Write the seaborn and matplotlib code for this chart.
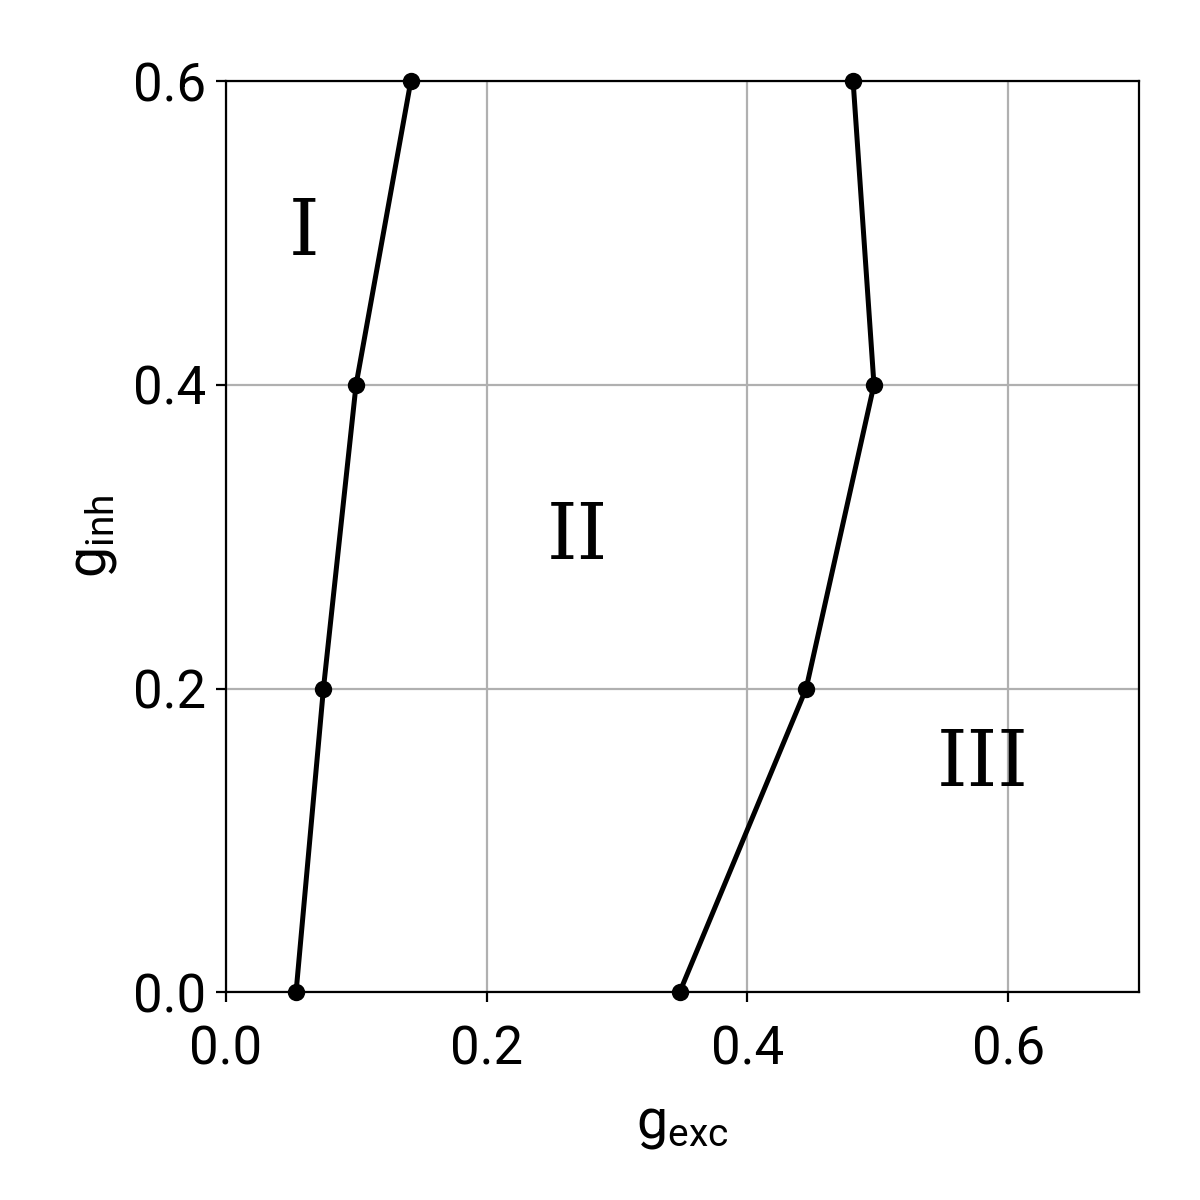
import numpy as np
import pandas as pd
import matplotlib
matplotlib.use("Agg")
import matplotlib.pyplot as plt
import seaborn as sns

# boundary curves between regimes
g_inh = [0.0, 0.2, 0.4, 0.6]
g_exc_left = [0.054, 0.075, 0.100, 0.142]
g_exc_right = [0.348, 0.445, 0.497, 0.481]

region_names = ["I", "II", "III"]
region_x = [0.06, 0.27, 0.58]
region_y = [0.50, 0.30, 0.15]

sns.set_style("ticks")
plt.rcParams['font.family'] = ['Roboto', 'DejaVu Sans']
plt.rcParams['mathtext.fontset'] = 'custom'
plt.rcParams['mathtext.rm'] = 'Roboto'
plt.rcParams['text.color'] = 'black'
plt.rcParams['axes.labelcolor'] = 'black'
plt.rcParams['xtick.color'] = 'black'
plt.rcParams['ytick.color'] = 'black'

df = pd.concat([
    pd.DataFrame({"g_exc": g_exc_left, "g_inh": g_inh, "curve": "left"}),
    pd.DataFrame({"g_exc": g_exc_right, "g_inh": g_inh, "curve": "right"}),
])

fig, ax = plt.subplots(figsize=(6, 6), dpi=200)
fig.subplots_adjust(left=0.188, right=0.949, bottom=0.173, top=0.9325)

sns.lineplot(data=df, x="g_exc", y="g_inh", units="curve", estimator=None,
             sort=False, color="black", linewidth=1.8, marker="o",
             markersize=5.5, markeredgecolor="black", ax=ax, clip_on=False,
             zorder=3)

for name, x, y in zip(region_names, region_x, region_y):
    ax.text(x, y, name, fontsize=28, family="DejaVu Serif",
            ha="center", va="center", color="black")

ax.set_xlim(0, 0.7)
ax.set_ylim(0, 0.6)
ax.set_xticks([0.0, 0.2, 0.4, 0.6])
ax.set_yticks([0.0, 0.2, 0.4, 0.6])
ax.grid(True, color="#b0b0b0", linewidth=0.8)
ax.tick_params(labelsize=19)
ax.tick_params(axis="x", pad=8)
for s in ax.spines.values():
    s.set_linewidth(0.8)
    s.set_color("black")

ax.set_xlabel(r"$\mathregular{g_{exc}}$", fontsize=20, labelpad=8)
ax.set_ylabel(r"$\mathregular{g_{inh}}$", fontsize=20, labelpad=5)

fig.savefig("out.png", dpi=200)
